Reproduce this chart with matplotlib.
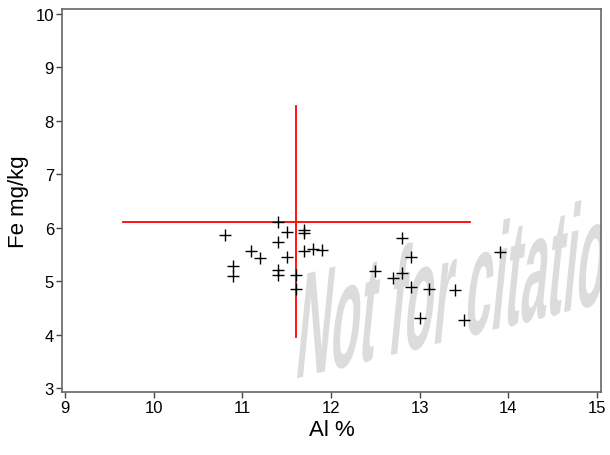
import matplotlib
matplotlib.use("Agg")
import matplotlib.pyplot as plt
from matplotlib.textpath import TextPath
from matplotlib.patches import PathPatch
from matplotlib.font_manager import FontProperties
from matplotlib.transforms import Affine2D, IdentityTransform

plt.rcParams["font.family"] = ["Liberation Sans", "DejaVu Sans"]

# sample values
al_pct = [10.8, 11.4, 11.5, 11.7, 11.7, 11.4, 11.1, 11.2, 11.5, 11.7, 11.8, 11.9,
          10.9, 10.9, 11.4, 11.4, 11.6, 11.6, 12.8, 12.9, 12.5, 12.7, 12.8, 12.9,
          13.1, 13.4, 13.9, 13.0, 13.5]
fe_mgkg = [5.87, 6.10, 5.92, 5.91, 5.95, 5.73, 5.57, 5.44, 5.46, 5.57, 5.60, 5.59,
           5.29, 5.09, 5.21, 5.12, 5.12, 4.86, 5.81, 5.46, 5.19, 5.06, 5.16, 4.89,
           4.85, 4.84, 5.54, 4.32, 4.28]

# red cross: centre and extent of each arm
cross_x = [9.65, 11.61, 13.57]
cross_y = [3.96, 6.11, 8.27]

x_ticks = [9, 10, 11, 12, 13, 14, 15]
y_ticks = [3, 4, 5, 6, 7, 8, 9, 10]

fig = plt.figure(figsize=(6.10, 4.56), dpi=100)
ax = fig.add_axes([0.1021, 0.1382, 0.8827, 0.8399])

ax.plot([cross_x[0], cross_x[2]], [cross_y[1], cross_y[1]], color="#ff0000", lw=1.3, zorder=3)
ax.plot([cross_x[1], cross_x[1]], [cross_y[0], cross_y[2]], color="#ff0000", lw=1.3, zorder=3)
ax.plot(al_pct, fe_mgkg, linestyle="none", marker="+", ms=9, mew=1.0, color="black", zorder=4)

ax.set_xlim(8.97, 15.04)
ax.set_ylim(2.93, 10.09)
ax.set_xticks(x_ticks)
ax.set_yticks(y_ticks)
ax.tick_params(direction="out", length=4, width=1, color="#444444", labelsize=12, pad=2)
for spine in ax.spines.values():
    spine.set_color("#666666")
    spine.set_linewidth(1.2)
ax.set_xlabel("Al %", fontsize=16, labelpad=3)
ax.set_ylabel("Fe mg/kg", fontsize=16, labelpad=5)

# watermark, stretched tall and tilted, clipped to the plot area
fp = FontProperties(family=["Liberation Sans Narrow", "Liberation Sans"], weight="bold", style="normal")
tp = TextPath((0, 0), "Not for citation", size=100, prop=fp)
ext = tp.get_extents()
a = 332.0 / ext.width
d = 112.0 / ext.height
trans = Affine2D([[a, 0.10 * d, 297 - a * ext.x0], [0.247 * a, d, 456 - 380], [0, 0, 1]])
wm = PathPatch(trans.transform_path(tp), facecolor="#dcdcdc", edgecolor="none",
               transform=IdentityTransform(), zorder=1)
ax.add_artist(wm)
wm.set_clip_path(ax.patch)

fig.savefig("out.png", dpi=100)
